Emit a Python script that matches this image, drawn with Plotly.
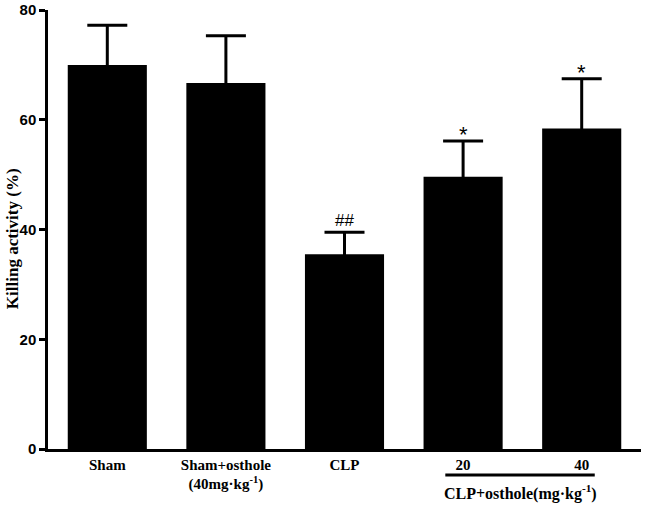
import plotly.graph_objects as go

categories = ["Sham", "Sham+osthole<br>(40mg·kg<sup>-1</sup>)", "CLP", "20", "40"]
means = [70.0, 66.7, 35.5, 49.6, 58.4]
sd_upper = [7.2, 8.6, 4.0, 6.55, 9.05]
marks = ["", "", "##", "*", "*"]
y_ticks = [0, 20, 40, 60, 80]
group_label = "CLP+osthole(mg·kg<sup>-1</sup>)"
y_title = "Killing activity (%)"

x_idx = list(range(len(categories)))

fig = go.Figure()
fig.add_trace(go.Bar(
    x=x_idx, y=means, width=0.667,
    marker=dict(color="black", line=dict(width=0)),
    # lower end tucked inside the black bar so only the upper cap is visible
    error_y=dict(type="data", array=sd_upper, arrayminus=[1.5]*len(means),
                 symmetric=False, color="black", thickness=3, width=20),
    showlegend=False,
))

for i, (m, s, t) in enumerate(zip(means, sd_upper, marks)):
    if t == "*":
        fig.add_annotation(x=i, y=m + s, text=t, showarrow=False, yanchor="middle",
                           yshift=6, font=dict(family="Liberation Sans", size=22, color="black"))
    elif t:
        fig.add_annotation(x=i, y=m + s, text=t, showarrow=False, yanchor="middle",
                           yshift=12, font=dict(family="Liberation Sans", size=17, color="black"))

# group line and label
fig.add_shape(type="line", xref="x", yref="paper", x0=2.85, x1=4.11, y0=-0.059, y1=-0.059,
              line=dict(color="black", width=3))
fig.add_annotation(x=3.486, xref="x", yref="paper", y=-0.098, yanchor="middle", text=group_label,
                   showarrow=False,
                   font=dict(family="Liberation Serif", size=16, color="black", weight="bold"))

# y title
fig.add_annotation(x=0, xref="paper", y=0.478, yref="paper", xshift=-36, text=y_title,
                   textangle=-90, showarrow=False, xanchor="center", yanchor="middle",
                   font=dict(family="Liberation Serif", size=17, color="black", weight="bold"))

fig.update_layout(
    width=650, height=505,
    margin=dict(l=48, r=8.5, t=10, b=56),
    paper_bgcolor="white", plot_bgcolor="white",
    xaxis=dict(range=[-0.5, 4.5], tickmode="array", tickvals=x_idx, ticktext=categories,
               showline=True, linecolor="black", linewidth=2.5, ticks="",
               showgrid=False, zeroline=False, automargin=False,
               tickfont=dict(family="Liberation Serif", size=15, color="black", weight="bold")),
    yaxis=dict(range=[0, 80], tickvals=y_ticks, showline=True, linecolor="black", linewidth=2.5,
               ticks="outside", ticklen=6, tickwidth=2.5, tickcolor="black",
               showgrid=False, zeroline=False, automargin=False,
               tickfont=dict(family="Liberation Sans", size=15, color="black", weight="bold")),
)

fig.write_html("out.html", config={"displayModeBar": False},
               post_script="document.body.style.margin='0';")
